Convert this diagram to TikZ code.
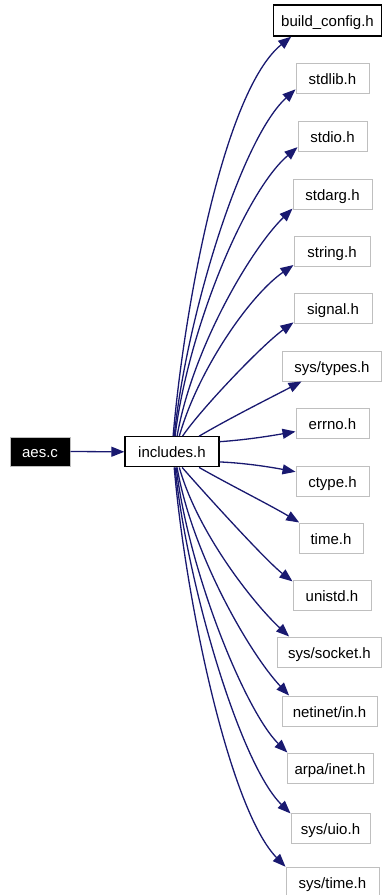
\documentclass[tikz,border=0pt]{standalone}
\usepackage{fontspec}
\setmainfont{Liberation Sans}
\usetikzlibrary{arrows.meta}
\definecolor{edgeblue}{HTML}{191970}
\definecolor{boxgray}{HTML}{BFBFBF}

\begin{document}
\begin{tikzpicture}[x=1pt,y=-1pt,
  file/.style={draw=boxgray, line width=1pt, fill=white, minimum height=30pt,
    inner xsep=0pt, inner ysep=0pt, text height=12pt, text depth=0pt,
    font=\fontsize{15}{18}\selectfont},
  mainfile/.style={file, draw=black, line width=1.3pt},
  rootfile/.style={file, fill=black, text=white, draw=boxgray},
  dep/.style={draw=edgeblue, line width=1.3pt,
    -{Triangle[length=13pt,width=10pt]}}
]
\useasboundingbox (0,0) rectangle (382,895);

% the source file and its include header
\node[rootfile, minimum width=60pt, minimum height=29pt] (aes) at (40,451.5) {aes.c};
\node[mainfile, minimum width=94pt] (inc) at (172,451.8) {includes.h};

% headers pulled in by includes.h
\node[mainfile, minimum width=108pt, minimum height=31pt] (bc) at (327.5,20.5) {build\_config.h};
\node[file, minimum width=73pt] (stdlib) at (332.5,78) {stdlib.h};
\node[file, minimum width=69pt] (stdio) at (332.5,136.5) {stdio.h};
\node[file, minimum width=79pt] (stdarg) at (332.5,194) {stdarg.h};
\node[file, minimum width=76pt] (string) at (332,251) {string.h};
\node[file, minimum width=78pt] (signal) at (333,308) {signal.h};
\node[file, minimum width=99pt] (systypes) at (332,366) {sys/types.h};
\node[file, minimum width=73pt] (errno) at (332.5,423) {errno.h};
\node[file, minimum width=73pt] (ctype) at (332.5,481) {ctype.h};
\node[file, minimum width=64pt] (time) at (331,538) {time.h};
\node[file, minimum width=78pt] (unistd) at (332,595) {unistd.h};
\node[file, minimum width=104pt] (syssocket) at (329.5,652) {sys/socket.h};
\node[file, minimum width=95pt] (netinet) at (329.5,711) {netinet/in.h};
\node[file, minimum width=86pt] (arpa) at (330,768) {arpa/inet.h};
\node[file, minimum width=79pt] (sysuio) at (330.5,828) {sys/uio.h};
\node[file, minimum width=93pt] (systime) at (332.5,882) {sys/time.h};

% include edges
\draw[dep] (aes.east) -- (inc.west);

\draw[dep] (inc.86)  .. controls (185,300) and (225,90)  .. (bc.204);
\draw[dep] (inc.82)  .. controls (186,320) and (240,140) .. (stdlib.197);
\draw[dep] (inc.79)  .. controls (188,330) and (245,192) .. (stdio.197);
\draw[dep] (inc.72)  .. controls (192,350) and (250,250) .. (stdarg.200);
\draw[dep] (inc.65)  .. controls (198,370) and (250,295) .. (string.200);
\draw[dep] (inc.56)  .. controls (200,410) and (262,345) .. (signal.200);
\draw[dep] (inc.30)  .. controls (230,418) and (270,398) .. (systypes.207);
\draw[dep] (inc.12)  .. controls (245,440) and (270,436) .. (errno.193);
\draw[dep] (inc.-12) .. controls (245,463) and (270,467) .. (ctype.166);
\draw[dep] (inc.-30) .. controls (230,485) and (270,505) .. (time.154);
\draw[dep] (inc.-57) .. controls (200,488) and (265,560) .. (unistd.161);
\draw[dep] (inc.-65) .. controls (198,534) and (255,605) .. (syssocket.159);
\draw[dep] (inc.-72) .. controls (192,554) and (250,654) .. (netinet.159);
\draw[dep] (inc.-75) .. controls (189,574) and (246,712) .. (arpa.160);
\draw[dep] (inc.-79) .. controls (187,584) and (240,764) .. (sysuio.160);
\draw[dep] (inc.-82) .. controls (186,604) and (230,810) .. (systime.162);
\end{tikzpicture}
\end{document}
